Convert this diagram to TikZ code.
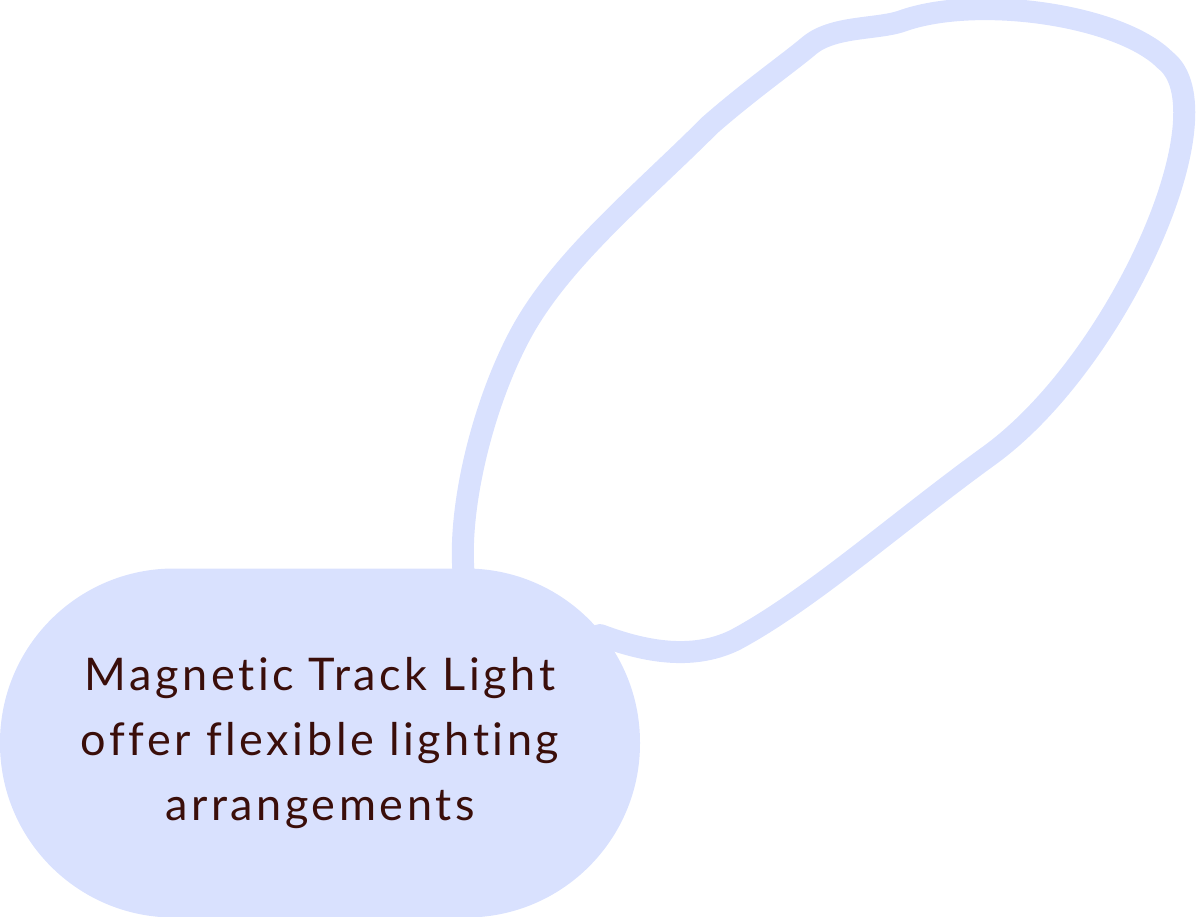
\documentclass[tikz,border=0pt]{standalone}
\usepackage{fontspec}
\setmainfont[Ligatures={NoCommon},LetterSpace=8]{Lato}
\definecolor{nodeblue}{HTML}{D9E1FE}
\definecolor{textbrown}{HTML}{3A0E0A}
\begin{document}
\begin{tikzpicture}[x=1pt,y=-1pt,
  loopline/.style={draw=nodeblue,line width=22pt,line cap=round,line join=round},
  pill/.style={fill=nodeblue,rounded corners=174pt,minimum width=640pt,minimum height=349pt,inner sep=0pt,
    text=textbrown,font=\fontsize{45}{65}\selectfont,align=center,text width=620pt}]
\useasboundingbox (0,0) rectangle (1196,916);
\coordinate (s) at (465,585);
\coordinate (e) at (600,635);
\draw[loopline] (s) .. controls (455,520) and (480,410) .. (520,335)
  .. controls (560,260) and (640,195) .. (710,125)
  .. controls (750,90) and (790,62) .. (810,45)
  .. controls (835,25) and (880,30) .. (905,20)
  .. controls (980,-5) and (1120,15) .. (1165,60)
  .. controls (1230,110) and (1120,360) .. (990,455)
  .. controls (900,520) and (810,600) .. (735,640)
  .. controls (690,662) and (640,650) .. (e);
\node[pill] (n) at (320,743) {Magnetic Track Light\\offer flexible lighting\\arrangements};
\end{tikzpicture}
\end{document}
